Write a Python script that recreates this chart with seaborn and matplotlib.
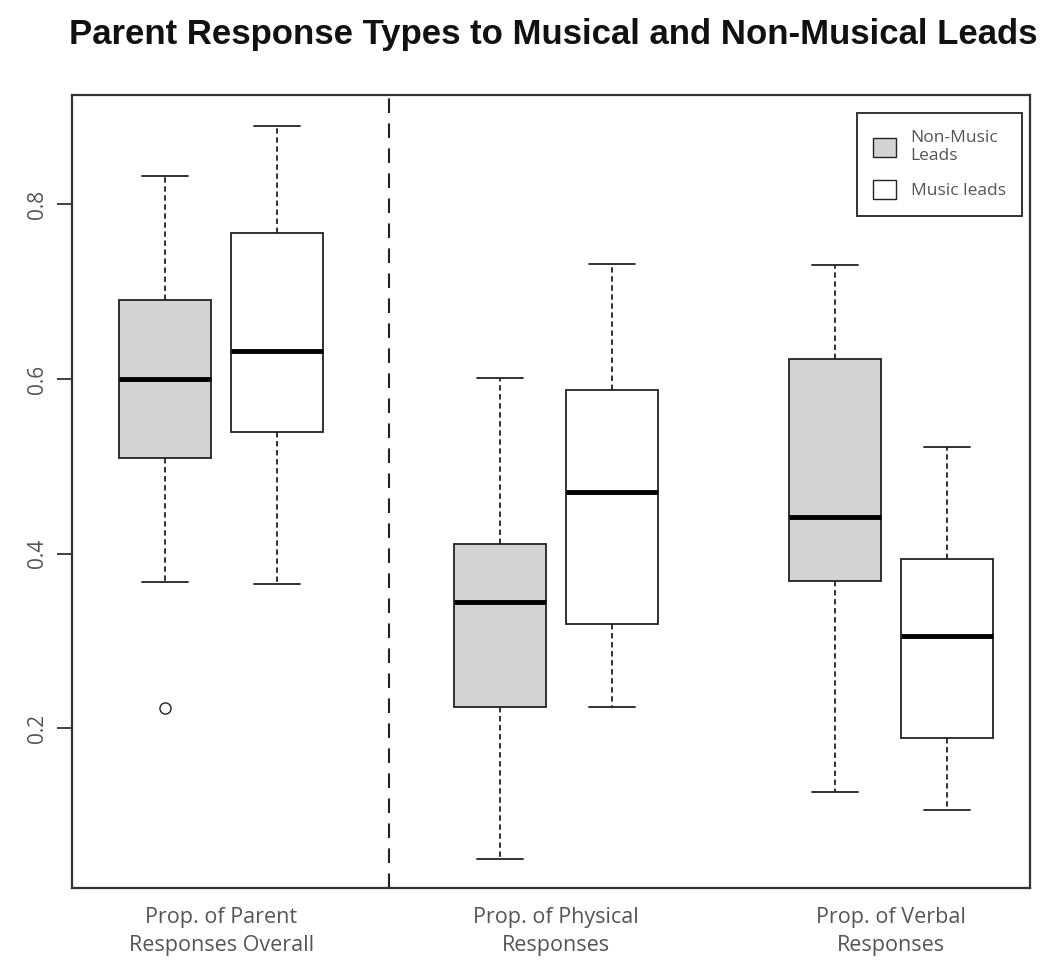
import pandas as pd
import matplotlib.pyplot as plt
import seaborn as sns
from matplotlib.patches import Patch

# response categories on the x axis and the two lead types (hue)
categories = ["Prop. of Parent\nResponses Overall",
              "Prop. of Physical\nResponses",
              "Prop. of Verbal\nResponses"]
lead_types = ["Non-Music\nLeads", "Music leads"]

# box summaries, one value per category
non_music_low = [0.367, 0.050, 0.127]
non_music_q1 = [0.509, 0.224, 0.368]
non_music_median = [0.600, 0.345, 0.442]
non_music_q3 = [0.690, 0.411, 0.623]
non_music_high = [0.833, 0.601, 0.731]
non_music_outliers = [[0.223], [], []]

music_low = [0.365, 0.224, 0.106]
music_q1 = [0.539, 0.319, 0.189]
music_median = [0.632, 0.470, 0.306]
music_q3 = [0.767, 0.587, 0.394]
music_high = [0.890, 0.732, 0.522]
music_outliers = [[], [], []]

palette = {"Non-Music\nLeads": "#d3d3d3", "Music leads": "white"}


def build_table():
    # each summary value is repeated 4 times so the quartiles seaborn
    # computes land exactly on them; outliers are appended as-is
    series = [
        (lead_types[0], non_music_low, non_music_q1, non_music_median,
         non_music_q3, non_music_high, non_music_outliers),
        (lead_types[1], music_low, music_q1, music_median,
         music_q3, music_high, music_outliers),
    ]
    rows = []
    for lead, lows, q1s, meds, q3s, highs, outs in series:
        for i, cat in enumerate(categories):
            values = [lows[i], q1s[i], meds[i], q3s[i], highs[i]] * 4 + outs[i]
            for v in values:
                rows.append({"response": cat, "lead": lead, "prop": v})
    return pd.DataFrame(rows)


def main():
    df = build_table()

    sns.set_style("white")
    plt.rcParams["font.family"] = ["Open Sans", "DejaVu Sans"]

    fig, ax = plt.subplots(figsize=(10.5, 9.72), dpi=100)
    fig.subplots_adjust(left=0.0686, right=0.981, top=0.902, bottom=0.0864)

    sns.boxplot(data=df, x="response", y="prop", hue="lead",
                order=categories, hue_order=lead_types, palette=palette,
                saturation=1, width=2 / 3, gap=0.18,
                linecolor="#222222", linewidth=1.3,
                whiskerprops={"linestyle": (0, (3, 2))},
                medianprops={"color": "black", "linewidth": 3.5},
                flierprops={"marker": "o", "markerfacecolor": "none",
                            "markeredgecolor": "#222222", "markersize": 8},
                legend=False, ax=ax)

    # dashed separator between overall and per-type responses
    ax.axvline(0.5, color="#222222", linewidth=1.5, dashes=(7, 5))

    ax.set_xlim(-0.445, 2.415)
    ax.set_ylim(0.0168, 0.925)
    ax.set_yticks([0.2, 0.4, 0.6, 0.8])
    ax.set_yticklabels(["0.2", "0.4", "0.6", "0.8"], rotation=90, va="center")
    ax.set_xlabel("")
    ax.set_ylabel("")
    ax.tick_params(axis="x", length=0, pad=14, labelsize=15.5, labelcolor="#555555")
    for lab in ax.get_xticklabels():
        lab.set_linespacing(1.4)
    ax.tick_params(axis="y", length=11, width=1.3, color="#333333", pad=6,
                   labelsize=15, labelcolor="#555555", left=True)
    for spine in ax.spines.values():
        spine.set_color("#333333")
        spine.set_linewidth(1.6)

    handles = [Patch(facecolor=palette[l], edgecolor="#222222", label=l)
               for l in lead_types]
    leg = ax.legend(handles=handles, loc="upper right",
                    bbox_to_anchor=(0.9916, 0.977), borderaxespad=0,
                    fancybox=False, edgecolor="#333333", framealpha=1,
                    fontsize=12.5, handlelength=1.3, handleheight=1.3,
                    labelspacing=0.9, borderpad=0.95, handletextpad=0.85)
    leg.get_frame().set_linewidth(1.4)
    for t in leg.get_texts():
        t.set_color("#555555")

    fig.text(0.527, 0.965, "Parent Response Types to Musical and Non-Musical Leads",
             ha="center", va="center", fontsize=25, fontweight="bold",
             color="#111111", family=["Liberation Sans", "DejaVu Sans"])

    fig.savefig("out.png", dpi=100)


if __name__ == "__main__":
    main()
